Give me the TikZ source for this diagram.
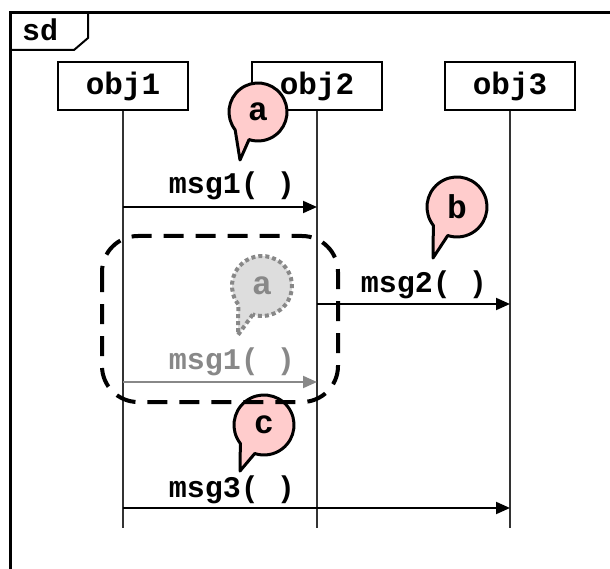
\documentclass[tikz,border=0pt]{standalone}
\usepackage{fontspec}
\newfontfamily\seqfont{Liberation Mono}
\usetikzlibrary{arrows.meta,calc}

\definecolor{bubblepink}{HTML}{FFCCCC}
\definecolor{ghostgray}{HTML}{888888}
\definecolor{ghostfill}{HTML}{DDDDDD}
\definecolor{lifegray}{HTML}{333333}

\tikzset{
  objbox/.style={draw=black, line width=1.4pt, fill=white, minimum width=130pt,
    minimum height=48pt, inner sep=0pt, font=\seqfont\bfseries\fontsize{31}{31}\selectfont},
  lifeline/.style={draw=lifegray, line width=1.2pt},
  msgarrow/.style={line width=2pt, -{Triangle[length=14pt,width=12pt]}},
  ghostarrow/.style={msgarrow, draw=ghostgray, -{Triangle[length=14pt,width=12pt,fill=ghostgray]}},
  msglabel/.style={anchor=base, inner sep=0pt, font=\seqfont\bfseries\fontsize{30}{30}\selectfont},
  bubble/.style={draw=black, line width=3pt, fill=bubblepink, line join=round},
  ghostbubble/.style={draw=ghostgray, line width=4pt, fill=ghostfill, dash pattern=on 4pt off 3pt},
  bubbletext/.style={inner sep=0pt, font=\seqfont\bfseries\fontsize{33}{33}\selectfont},
  framestyle/.style={line width=3pt},
  fragment/.style={line width=4pt, dash pattern=on 20pt off 12pt, rounded corners=36pt}
}

\begin{document}
\begin{tikzpicture}[x=1pt,y=-1pt]
\useasboundingbox (0,0) rectangle (610,569);
\clip (0,0) rectangle (610,569);
\fill[white] (0,0) rectangle (610,569);

% outer sd frame and its tab
\draw[framestyle] (640,13) -- (10,13) -- (10,600);
\draw[line width=2pt] (10,50) -- (74,50) -- (88,38) -- (88,13);
\node[msglabel, anchor=base west] (sd) at (22,41) {sd};

% lifelines
\coordinate (l1) at (123,528);
\coordinate (l2) at (317,528);
\coordinate (l3) at (510,528);
\node[objbox] (o1) at (123,86) {obj1};
\node[objbox] (o2) at (317,86) {obj2};
\node[objbox] (o3) at (510,86) {obj3};
\draw[lifeline] (o1.south) -- (l1);
\draw[lifeline] (o2.south) -- (l2);
\draw[lifeline] (o3.south) -- (l3);

% anchor points of the messages on the lifelines
\coordinate (m1s) at (123,207); \coordinate (m1e) at (317,207);
\coordinate (m2s) at (317,304); \coordinate (m2e) at (510,304);
\coordinate (g1s) at (123,382); \coordinate (g1e) at (317,382);
\coordinate (m3s) at (123,508); \coordinate (m3e) at (510,508);

% messages
\draw[msgarrow] (m1s) -- (m1e);
\node[msglabel] (t1) at (232,194) {msg1( )};
\draw[msgarrow] (m2s) -- (m2e);
\node[msglabel] (t2) at (424,292) {msg2( )};
\draw[ghostarrow] (g1s) -- (g1e);
\node[msglabel, text=ghostgray] (tg) at (232,369) {msg1( )};
\draw[msgarrow] (m3s) -- (m3e);
\node[msglabel] (t3) at (232,497) {msg3( )};

% callout a
\coordinate (ca) at (258,112);
\coordinate (ta) at (240,160);
\filldraw[bubble] ($(ca)+(252:29pt)$) -- (ta) -- ($(ca)+(218:29pt)$)
  arc[start angle=218, end angle=-108, radius=29pt] -- cycle;
\node[bubbletext] (la) at (ca) {a};

% callout b
\coordinate (cb) at (457,207);
\coordinate (tb) at (433,258);
\filldraw[bubble] ($(cb)+(252:30pt)$) -- (tb) -- ($(cb)+(218:30pt)$)
  arc[start angle=218, end angle=-108, radius=30pt] -- cycle;
\node[bubbletext] (lb) at (cb) {b};

% faded callout a
\coordinate (cg) at (262,286);
\coordinate (tg2) at (238,335);
\filldraw[ghostbubble] ($(cg)+(252:30pt)$) -- (tg2) -- ($(cg)+(218:30pt)$)
  arc[start angle=218, end angle=-108, radius=30pt] -- cycle;
\node[bubbletext, text=ghostgray] (lg) at (cg) {a};

% callout c
\coordinate (cc) at (264,425);
\coordinate (tc) at (240,471);
\filldraw[bubble] ($(cc)+(252:30pt)$) -- (tc) -- ($(cc)+(218:30pt)$)
  arc[start angle=218, end angle=-108, radius=30pt] -- cycle;
\node[bubbletext] (lc) at (cc) {c};

% dashed region around the replaced message
\draw[fragment] (102,236) rectangle (338,402);
\end{tikzpicture}
\end{document}
